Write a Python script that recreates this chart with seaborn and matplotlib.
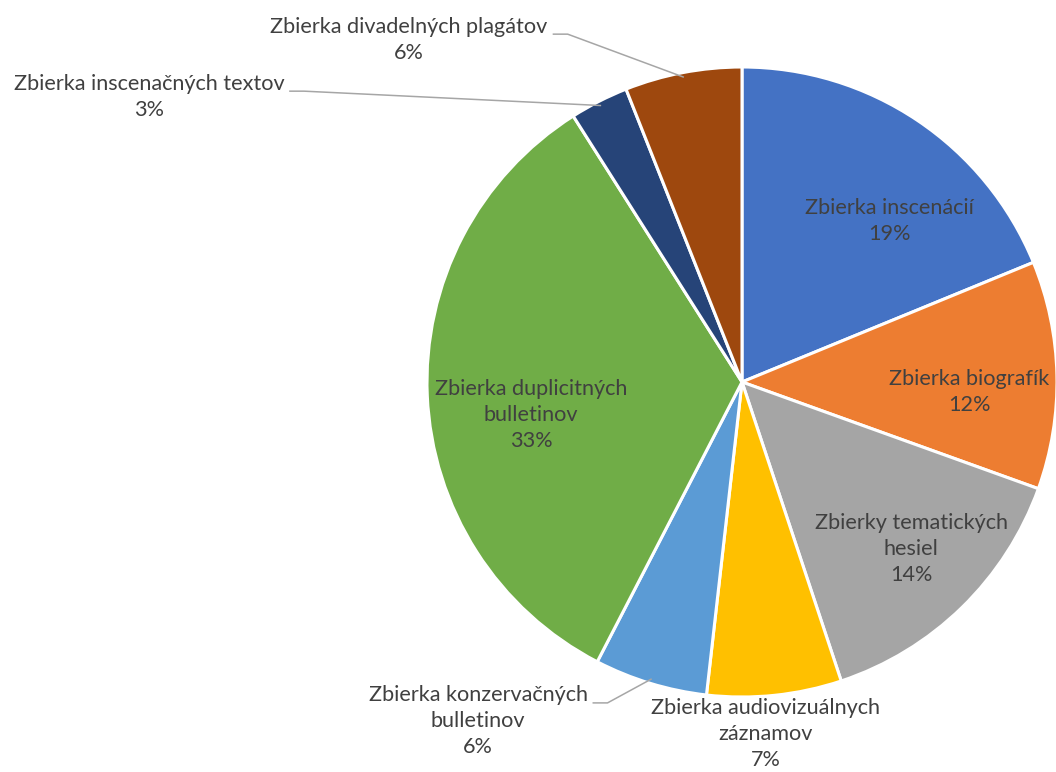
import matplotlib
matplotlib.use("Agg")
import matplotlib.pyplot as plt
import seaborn as sns
import numpy as np

# ---- data ----
categories = [
    "Zbierka inscenácií",
    "Zbierka biografík",
    "Zbierky tematických\nhesiel",
    "Zbierka audiovizuálnych\nzáznamov",
    "Zbierka konzervačných\nbulletinov",
    "Zbierka duplicitných\nbulletinov",
    "Zbierka inscenačných textov",
    "Zbierka divadelných plagátov",
]
shares = [18.8, 11.7, 14.4, 6.9, 5.8, 33.4, 3.0, 6.0]
colors = ["#4472C4", "#ED7D31", "#A5A5A5", "#FFC000", "#5B9BD5", "#70AD47", "#264478", "#9E480E"]

# label layout (data coords, pie radius = 1)
label_pos = [
    (0.467, 0.511),
    (0.721, -0.032),
    (0.537, -0.530),
    (0.076, -1.117),
    (-0.838, -1.076),
    (-0.670, -0.105),
    (-1.883, 0.905),
    (-1.057, 1.086),
]
leader = [False, False, False, False, True, False, True, True]

sns.set_theme(style="white")
plt.rcParams["font.family"] = ["Lato", "DejaVu Sans"]

W, H = 1056, 772
fig = plt.figure(figsize=(W / 100, H / 100), dpi=100)
cx, cy, r = 742, 382, 315
ax = fig.add_axes([(cx - r) / W, (H - cy - r) / H, 2 * r / W, 2 * r / H])

wedges, _ = ax.pie(
    shares,
    colors=colors,
    startangle=90,
    counterclock=False,
    radius=1.0,
    wedgeprops=dict(edgecolor="white", linewidth=2.2),
)
ax.set_xlim(-1, 1)
ax.set_ylim(-1, 1)
ax.set_aspect("auto")
ax.axis("off")

texts = []
for name, v, (x, y) in zip(categories, shares, label_pos):
    t = ax.text(x, y, f"{name}\n{round(v)}%", ha="center", va="center",
                multialignment="center", fontsize=15.6, color="#404040",
                linespacing=1.38)
    texts.append(t)

fig.canvas.draw()
renderer = fig.canvas.get_renderer()
inv = ax.transData.inverted()
for w, t, lead in zip(wedges, texts, leader):
    if not lead:
        continue
    ang = np.deg2rad((w.theta1 + w.theta2) / 2)
    ex, ey = np.cos(ang) * 0.985, np.sin(ang) * 0.985
    bb = t.get_window_extent(renderer)
    n_lines = t.get_text().count("\n") + 1
    ypix = bb.y1 - bb.height / n_lines * 0.75
    x0, y0 = inv.transform((bb.x1 + 5, ypix))
    x1, _ = inv.transform((bb.x1 + 20, ypix))
    ax.plot([x0, x1, ex], [y0, y0, ey], color="#A6A6A6", lw=1.1,
            clip_on=False, solid_capstyle="butt")

fig.savefig("out.png", dpi=100)
